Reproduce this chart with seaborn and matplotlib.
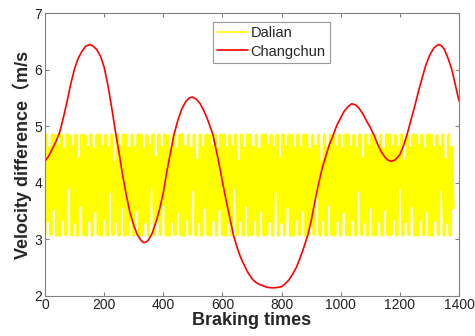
import numpy as np
import pandas as pd
import matplotlib
matplotlib.use("Agg")
import matplotlib.pyplot as plt
import seaborn as sns

# ---- data ----
changchun_x = [0, 12, 25, 37, 50, 62, 75, 87, 100, 112, 125, 138, 152, 163, 175, 188, 200, 212,
               225, 240, 250, 262, 275, 287, 300, 312, 325, 333, 342, 350, 362, 375, 387, 400,
               412, 425, 436, 450, 462, 475, 487, 498, 512, 525, 537, 550, 568, 575, 587, 600,
               612, 625, 637, 650, 660, 670, 685, 700, 712, 725, 750, 765, 778, 790, 800, 812,
               825, 837, 850, 862, 875, 889, 900, 912, 925, 937, 950, 962, 975, 987, 1000, 1012,
               1025, 1037, 1050, 1062, 1075, 1087, 1100, 1112, 1125, 1137, 1150, 1160, 1172,
               1185, 1200, 1212, 1224, 1237, 1250, 1262, 1275, 1287, 1300, 1315, 1330, 1340,
               1350, 1362, 1375, 1387, 1400]
changchun_y = [4.38, 4.47, 4.60, 4.73, 4.90, 5.15, 5.45, 5.75, 6.02, 6.20, 6.33, 6.42, 6.45, 6.42,
               6.36, 6.24, 6.05, 5.75, 5.35, 4.85, 4.55, 4.15, 3.78, 3.48, 3.25, 3.08, 2.98, 2.94,
               2.95, 2.99, 3.10, 3.30, 3.52, 3.82, 4.20, 4.55, 4.85, 5.12, 5.30, 5.43, 5.50, 5.52,
               5.48, 5.40, 5.28, 5.12, 4.85, 4.68, 4.38, 4.02, 3.70, 3.38, 3.08, 2.85, 2.70, 2.58,
               2.42, 2.30, 2.24, 2.20, 2.15, 2.14, 2.14, 2.15, 2.16, 2.21, 2.28, 2.38, 2.50, 2.66,
               2.85, 3.08, 3.32, 3.65, 3.98, 4.25, 4.48, 4.68, 4.85, 5.02, 5.15, 5.27, 5.35, 5.40,
               5.38, 5.32, 5.22, 5.10, 4.98, 4.85, 4.68, 4.55, 4.45, 4.40, 4.38, 4.41, 4.50, 4.65,
               4.85, 5.10, 5.35, 5.60, 5.85, 6.07, 6.25, 6.39, 6.45, 6.43, 6.37, 6.22, 6.02, 5.75,
               5.45]

dalian_highs = [4.85, 4.62, 4.85, 4.84, 4.66, 4.85, 4.60, 4.85, 4.83, 4.64, 4.85, 4.42, 4.85, 4.84,
                4.63, 4.85, 4.60, 4.85, 4.85, 4.65, 4.84, 4.62, 4.85, 4.36, 4.85, 4.64, 4.85, 4.84,
                4.61, 4.85, 4.63, 4.85, 4.85, 4.60, 4.84, 4.66, 4.85, 4.45, 4.85, 4.63, 4.85, 4.84,
                4.62, 4.85, 4.60, 4.85, 4.85, 4.64, 4.84, 4.61, 4.85, 4.40, 4.85, 4.63, 4.85, 4.84,
                4.65, 4.85, 4.60, 4.85, 4.85, 4.62, 4.84, 4.64, 4.85, 4.38, 4.85, 4.61, 4.85, 4.84,
                4.63, 4.85, 4.60, 4.85, 4.85, 4.66, 4.84, 4.62, 4.85, 4.44, 4.85, 4.64, 4.85, 4.84,
                4.61, 4.85, 4.63, 4.85, 4.85, 4.60, 4.84, 4.65, 4.85, 4.37, 4.85, 4.62, 4.85, 4.84,
                4.64, 4.85, 4.60, 4.85, 4.85, 4.63, 4.84, 4.61, 4.85, 4.43, 4.85, 4.65, 4.85, 4.84,
                4.62, 4.85, 4.60, 4.85, 4.85, 4.64, 4.84, 4.63, 4.85, 4.39, 4.85, 4.61, 4.85, 4.84,
                4.66, 4.85, 4.60, 4.85, 4.85, 4.62, 4.84, 4.64, 4.85, 4.41, 4.85, 4.63]
dalian_lows = [3.07, 3.32, 3.08, 3.55, 3.07, 3.07, 3.35, 3.08, 3.92, 3.07, 3.30, 3.07, 3.60, 3.08,
               3.07, 3.33, 3.07, 3.50, 3.08, 3.07, 3.36, 3.07, 3.85, 3.08, 3.31, 3.07, 3.58, 3.07,
               3.08, 3.34, 3.07, 3.52, 3.07, 3.08, 3.30, 3.07, 3.95, 3.07, 3.35, 3.08, 3.62, 3.07,
               3.07, 3.32, 3.08, 3.48, 3.07, 3.07, 3.36, 3.08, 3.88, 3.07, 3.31, 3.07, 3.56, 3.08,
               3.07, 3.34, 3.07, 3.54, 3.08, 3.07, 3.30, 3.07, 3.90, 3.08, 3.33, 3.07, 3.60, 3.07,
               3.08, 3.35, 3.07, 3.50, 3.07, 3.08, 3.32, 3.07, 3.86, 3.07, 3.30, 3.08, 3.58, 3.07,
               3.07, 3.36, 3.08, 3.52, 3.07, 3.07, 3.31, 3.08, 3.93, 3.07, 3.34, 3.07, 3.61, 3.08,
               3.07, 3.33, 3.07, 3.49, 3.08, 3.07, 3.35, 3.07, 3.87, 3.08, 3.30, 3.07, 3.57, 3.07,
               3.08, 3.32, 3.07, 3.53, 3.07, 3.08, 3.36, 3.07, 3.91, 3.07, 3.31, 3.08, 3.59, 3.07,
               3.07, 3.34, 3.08, 3.51, 3.07, 3.07, 3.33, 3.08, 3.89, 3.07, 3.30, 3.07, 3.55]

# interleave lows/highs along the braking-time axis (step of 5)
dalian_y = []
for lo, hi in zip(dalian_lows, dalian_highs):
    dalian_y += [lo, hi]
dalian_y.append(dalian_lows[-1])
dalian_y = dalian_y[:281]
dalian_x = list(range(0, 5 * len(dalian_y), 5))

df_d = pd.DataFrame({"x": dalian_x, "y": dalian_y})
df_c = pd.DataFrame({"x": changchun_x, "y": changchun_y})

sns.set_style("ticks")
plt.rcParams["font.family"] = ["Liberation Sans", "Noto Sans CJK SC", "DejaVu Sans"]

fig = plt.figure(figsize=(4.75, 3.36), dpi=100)
ax = fig.add_axes([0.0947, 0.12, 0.8716, 0.84])

sns.lineplot(data=df_d, x="x", y="y", ax=ax, color="#ffff00", linewidth=2.2,
             estimator=None, sort=False, label="Dalian")
sns.lineplot(data=df_c, x="x", y="y", ax=ax, color="#ff0000", linewidth=1.2,
             estimator=None, sort=False, label="Changchun")

ax.set_xlim(0, 1400)
ax.set_ylim(2, 7)
ax.set_xticks([0, 200, 400, 600, 800, 1000, 1200, 1400])
ax.set_yticks([2, 3, 4, 5, 6, 7])
ax.tick_params(direction="in", top=True, right=True, length=3, width=0.8,
               color="#808080", labelsize=10, labelcolor="#222222", pad=2)
for s in ax.spines.values():
    s.set_color("#808080")
    s.set_linewidth(0.8)

ax.set_xlabel("Braking times", fontsize=13, fontweight="bold", labelpad=0)
ax.set_ylabel("Velocity difference（m/s", fontsize=13, fontweight="bold", labelpad=2)

leg = ax.legend(loc="upper left", bbox_to_anchor=(0.448, 0.935),
                bbox_transform=fig.transFigure, fontsize=10.5, frameon=True,
                fancybox=False, edgecolor="#808080", borderpad=0.3,
                handlelength=2.1, handletextpad=0.2, labelspacing=0.3,
                borderaxespad=0)
leg.get_frame().set_linewidth(0.8)
for line in leg.get_lines():
    line.set_linewidth(1.2)

fig.savefig("out.png", dpi=100)
